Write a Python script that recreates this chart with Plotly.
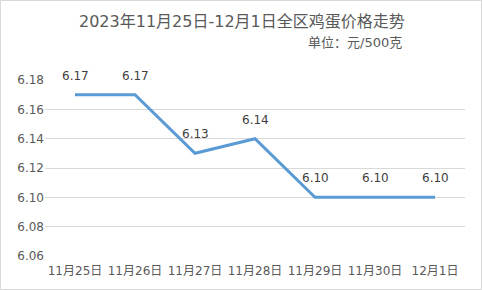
import plotly.graph_objects as go

categories = ["11月25日", "11月26日", "11月27日", "11月28日", "11月29日", "11月30日", "12月1日"]
prices = [6.17, 6.17, 6.13, 6.14, 6.10, 6.10, 6.10]
y_ticks = [6.06, 6.08, 6.10, 6.12, 6.14, 6.16, 6.18]

W, H = 482, 290
L, R, T, B = 45, 17, 80, 34
pw, ph = W - L - R, H - T - B

font = "DejaVu Sans, Noto Sans CJK SC, sans-serif"

fig = go.Figure()
fig.add_trace(go.Scatter(
    x=categories, y=prices, mode="lines",
    line=dict(color="#5b9bd5", width=3),
    hoverinfo="skip",
))
for c, v in zip(categories, prices):
    fig.add_annotation(x=c, y=v, text=f"{v:.2f}", showarrow=False,
                       yshift=19, font=dict(size=12, color="#404040", family=font))

fig.add_shape(type="rect", xref="paper", yref="paper",
              x0=-(L - 0.5) / pw, x1=1 + (R - 0.5) / pw,
              y0=-(B - 0.5) / ph, y1=1 + (T - 0.5) / ph,
              line=dict(color="#d9d9d9", width=1), layer="below")

fig.add_annotation(xref="paper", yref="paper", x=(242 - L) / pw, y=1 + (T - 21) / ph,
                   text="2023年11月25日-12月1日全区鸡蛋价格走势", showarrow=False,
                   xanchor="center", yanchor="middle",
                   font=dict(size=16, color="#595959", family=font))
fig.add_annotation(xref="paper", yref="paper", x=(404 - L) / pw, y=1 + (T - 42) / ph,
                   text="单位：元/500克", showarrow=False,
                   xanchor="right", yanchor="middle",
                   font=dict(size=13, color="#595959", family=font))

fig.update_layout(
    width=W, height=H,
    margin=dict(l=L, r=R, t=T, b=B),
    paper_bgcolor="white", plot_bgcolor="white",
    showlegend=False,
    font=dict(family=font, color="#595959", size=11),
)
fig.update_xaxes(type="category", range=[-0.5, len(categories) - 0.5],
                 showgrid=False, showline=False, ticks="", tickfont=dict(size=12),
                 ticklabelstandoff=6, fixedrange=True)
fig.update_yaxes(range=[6.06, 6.18], tickvals=y_ticks,
                 ticktext=[f"{t:.2f}" for t in y_ticks],
                 showgrid=True, gridcolor="#d9d9d9", gridwidth=1,
                 zeroline=False, showline=False, ticks="", tickfont=dict(size=12),
                 fixedrange=True)

fig.write_html("out.html", config={"displayModeBar": False})
